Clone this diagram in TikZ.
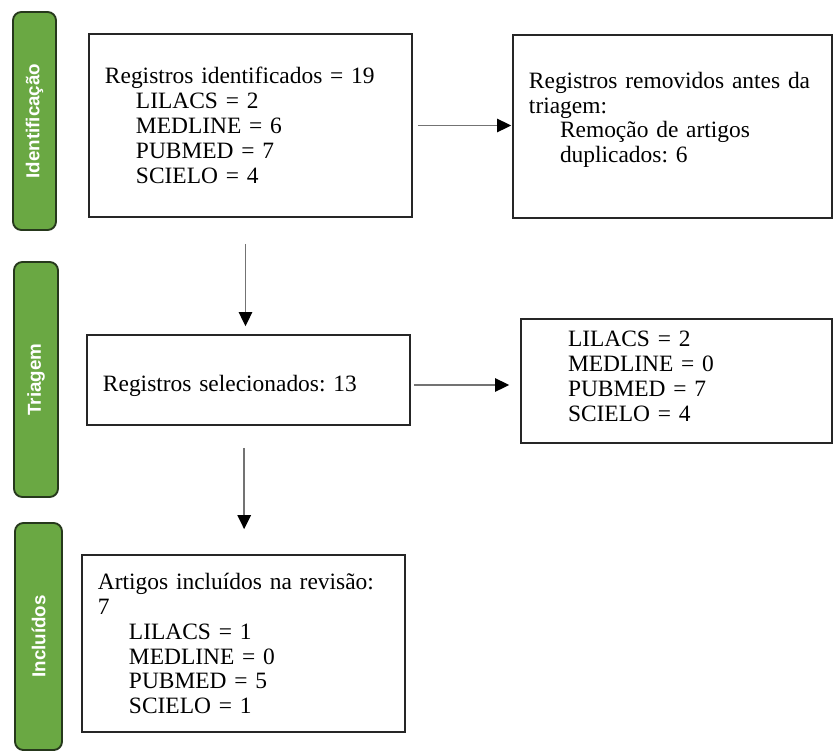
\documentclass[tikz,border=0pt]{standalone}
\usepackage{fontspec}
\setmainfont{Liberation Serif}
\newfontfamily\labelfont{Liberation Sans}
\usetikzlibrary{arrows.meta}
\definecolor{prismagreen}{RGB}{106,168,67}
\definecolor{prismaedge}{RGB}{38,56,28}
\newcommand{\ind}{\hspace*{0.93cm}}
\frenchspacing
\begin{document}
\begin{tikzpicture}[x=0.03cm,y=-0.03cm,
  box/.style={draw=black!85,line width=1.4pt,rectangle,align=left,inner xsep=0.48cm,font=\fontsize{20}{21.3}\selectfont},
  phase/.style={draw=prismaedge,line width=1.6pt,fill=prismagreen,rounded corners=0.25cm,text=white,font=\labelfont\bfseries\fontsize{16}{18}\selectfont,rotate=90,inner sep=0pt},
  arr/.style={draw=black!55,line width=1.3pt,-{Triangle[length=0.42cm,width=0.4cm,color=black]}}]
\useasboundingbox (0,0) rectangle (833,751);
% fases
\node[phase,minimum width=6.54cm,minimum height=1.29cm] (fase1) at (34.5,121) {Identificação};
\node[phase,minimum width=7.05cm,minimum height=1.32cm] (fase2) at (36,379.5) {Triagem};
\node[phase,minimum width=6.81cm,minimum height=1.41cm] (fase3) at (38.5,636.5) {Incluídos};
% caixas
\node[box,text width=8.73cm,minimum height=5.49cm] (ident) at (250.5,125.5)
  {Registros identificados = 19\\ \ind LILACS = 2\\ \ind MEDLINE = 6\\ \ind PUBMED = 7\\ \ind SCIELO = 4};
\node[box,text width=8.61cm,minimum height=5.49cm] (removed) at (672.5,126.5)
  {Registros removidos antes da\\ triagem:\\ \ind Remoção de artigos\\ \ind duplicados: 6\\[-0.2cm] \mbox{}};
\node[box,text width=8.73cm,minimum height=2.7cm,text height=24pt,text depth=4.3pt] (sel) at (248.5,380)
  {Registros selecionados: 13};
\node[box,text width=8.37cm,minimum height=3.72cm] (excl) at (676.5,381)
  {\ind LILACS = 2\\ \ind MEDLINE = 0\\ \ind PUBMED = 7\\ \ind SCIELO = 4\\[-0.45cm] \mbox{}};
\node[box,text width=8.73cm,minimum height=5.31cm] (incl) at (243.5,643.5)
  {Artigos incluídos na revisão:\\ 7\\ \ind LILACS = 1\\ \ind MEDLINE = 0\\ \ind PUBMED = 5\\ \ind SCIELO = 1};
% setas
\draw[arr,shorten <=0.15cm,shorten >=0.03cm] (ident.east) -- (ident.east -| removed.west);
\draw[arr,shorten <=0.78cm,shorten >=0.24cm] ([xshift=-0.15cm]ident.south) -- ([xshift=-0.15cm]ident.south |- sel.north);
\draw[arr,shorten <=0.09cm,shorten >=0.33cm] ([yshift=-0.15cm]sel.east) -- ([yshift=-0.15cm]sel.east -| excl.west);
\draw[arr,shorten <=0.66cm,shorten >=0.75cm] ([xshift=-0.13cm]sel.south) -- ([xshift=-0.13cm]sel.south |- incl.north);
\end{tikzpicture}
\end{document}
